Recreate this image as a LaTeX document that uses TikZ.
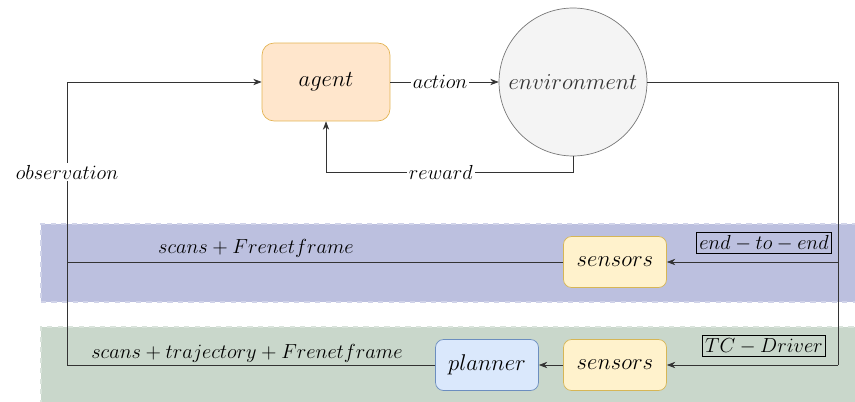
\documentclass[tikz,border=0pt]{standalone}
\usetikzlibrary{arrows.meta, positioning}
\definecolor{agentfill}{HTML}{FFE6CC}
\definecolor{agentline}{HTML}{E3B352}
\definecolor{sensfill}{HTML}{FFF2CC}
\definecolor{sensline}{HTML}{D6B656}
\definecolor{planfill}{HTML}{DAE8FC}
\definecolor{planline}{HTML}{6C8EBF}
\definecolor{envfill}{HTML}{F4F4F4}
\definecolor{envline}{HTML}{777777}
\definecolor{bandblue}{HTML}{BCC0DF}
\definecolor{bandgreen}{HTML}{C9D7CB}
% math text at in-between sizes
\newcommand{\blocktext}[1]{\scalebox{0.9}{\fontsize{14.4}{16}\selectfont$#1$}}
\newcommand{\labeltext}[1]{\scalebox{0.965}{\fontsize{12}{14}\selectfont$#1$}}
\tikzstyle{block} = [rectangle, rounded corners=0.16cm, draw, text centered, minimum width=2.06cm, minimum height=1.02cm]
\tikzstyle{agentbox} = [block, rounded corners=0.24cm, fill=agentfill, draw=agentline, minimum width=2.56cm, minimum height=1.56cm]
\tikzstyle{sensor} = [block, fill=sensfill, draw=sensline]
\tikzstyle{plan} = [block, fill=planfill, draw=planline]
\tikzstyle{env} = [circle, draw=envline, fill=envfill, text=black!80, minimum size=2.96cm, inner sep=0pt]
\tikzstyle{band} = [rectangle, dashed, line width=1pt, anchor=north west, inner sep=0pt]
\tikzstyle{tag} = [rectangle, draw, inner sep=1.5pt]
\tikzstyle{lbl} = [inner sep=1pt]
\tikzstyle{arrow} = [draw=black!80, ->, >=Stealth]
\tikzstyle{line} = [draw=black!80]

\begin{document}
\begin{tikzpicture}[x=0.02cm, y=-0.02cm]
    \clip (0,0) rectangle (855,402);

    % Bands for the two set-ups
    \node (e2e_band) [band, fill=bandblue, draw=bandblue!70!white, minimum width=17.4cm, minimum height=1.56cm] at (40,223) {};
    \node (tcd_band) [band, fill=bandgreen, draw=bandgreen!70!white, minimum width=17.4cm, minimum height=1.7cm] at (40,326) {};

    % RL loop
    \node (agent) [agentbox] at (326,82) {\blocktext{agent}};
    \node (environment) [env] at (573,82) {\blocktext{environment}};

    % Observation pipelines
    \node (sensors1) [sensor] at (615,262) {\blocktext{sensors}};
    \node (sensors2) [sensor] at (615,365) {\blocktext{sensors}};
    \node (planner) [plan] at (487,365) {\blocktext{planner}};

    \node (e2e_tag) [tag] at (764,243) {\labeltext{end-to-end}};
    \node (tcd_tag) [tag] at (764,346) {\labeltext{TC-Driver}};

    \coordinate (env_out) at (838,82);
    \coordinate (split1) at (838,262);
    \coordinate (split2) at (838,365);
    \coordinate (obs_top) at (67,82);
    \coordinate (obs1) at (67,262);
    \coordinate (obs2) at (67,365);
    \coordinate (rew_corner1) at (environment.south |- 0,172);
    \coordinate (rew_corner2) at (agent.south |- 0,172);

    % ==== Arrows
    \draw [arrow] (agent) -- node[lbl, fill=white, pos=0.46] {\labeltext{action}} (environment);
    \draw [arrow] (environment.south) -- (rew_corner1) -- node[lbl, fill=white, pos=0.535] {\labeltext{reward}} (rew_corner2) -- (agent.south);

    \draw [line] (environment.east) -- (env_out) -- (split2);
    \draw [arrow] (split1) -- (sensors1.east);
    \draw [arrow] (split2) -- (sensors2.east);
    \draw [arrow] (sensors2) -- (planner);

    \draw [line] (sensors1.west) -- (obs1);
    \draw [line] (planner.west) -- (obs2);
    \draw [arrow] (obs2) -- node[lbl, fill=white, pos=0.682] {\labeltext{observation}} (obs_top) -- (agent.west);

    \node (scans1) [lbl] at (256,248) {\labeltext{scans+Frenet frame}};
    \node (scans2) [lbl] at (247,353) {\labeltext{scans+trajectory+Frenet frame}};

\end{tikzpicture}
\end{document}
